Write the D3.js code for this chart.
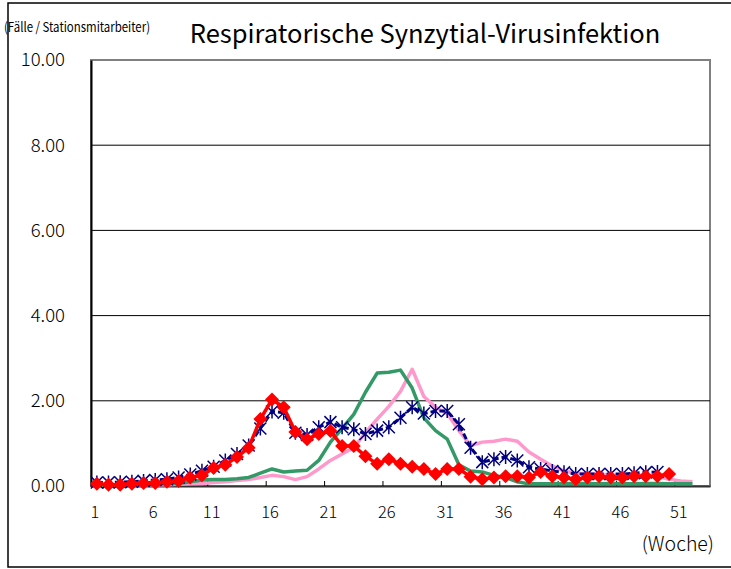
<!DOCTYPE html>
<html lang="de">
<head>
<meta charset="UTF-8">
<title>Respiratorische Synzytial-Virusinfektion</title>
<style>
    body { margin: 0; background: #fff; }
    svg text { font-family: "Noto Sans CJK JP", "Noto Sans", sans-serif; fill: #000; }
</style>
<script src="https://cdn.jsdelivr.net/npm/d3@7"></script>
</head>
<body>
<svg width="731" height="569"></svg>
<script>
    // weeks on the category axis
    const weeks = d3.range(1, 54);
    const weekLabels = [1, 6, 11, 16, 21, 26, 31, 36, 41, 46, 51];
    const yTicks = [0, 2, 4, 6, 8, 10];

    // series values, one per week starting at week 1
    const pinkSeries = [0.02, 0.02, 0.02, 0.02, 0.03, 0.03, 0.03, 0.04, 0.05, 0.06,
        0.08, 0.10, 0.13, 0.15, 0.20, 0.25, 0.22, 0.15, 0.22, 0.40,
        0.60, 0.75, 0.90, 1.25, 1.57, 1.87, 2.22, 2.74, 2.10, 1.85,
        1.70, 1.30, 0.95, 1.03, 1.05, 1.10, 1.05, 0.80, 0.63, 0.47,
        0.35, 0.30, 0.28, 0.28, 0.25, 0.25, 0.25, 0.25, 0.22, 0.16,
        0.12, 0.10];
    const greenSeries = [0.02, 0.02, 0.02, 0.03, 0.03, 0.04, 0.05, 0.06, 0.10, 0.14,
        0.15, 0.15, 0.17, 0.20, 0.30, 0.40, 0.33, 0.35, 0.37, 0.60,
        1.03, 1.35, 1.68, 2.20, 2.65, 2.67, 2.72, 2.30, 1.60, 1.30,
        1.10, 0.50, 0.35, 0.33, 0.25, 0.20, 0.10, 0.05, 0.05, 0.05,
        0.05, 0.06, 0.06, 0.05, 0.06, 0.05, 0.05, 0.06, 0.06, 0.05,
        0.05, 0.05];
    const blueSeries = [0.08, 0.08, 0.09, 0.10, 0.12, 0.14, 0.16, 0.20, 0.27, 0.36,
        0.45, 0.60, 0.75, 0.95, 1.35, 1.75, 1.72, 1.25, 1.20, 1.38,
        1.50, 1.38, 1.33, 1.22, 1.30, 1.38, 1.60, 1.85, 1.70, 1.76,
        1.76, 1.45, 0.90, 0.56, 0.63, 0.68, 0.60, 0.44, 0.40, 0.35,
        0.32, 0.28, 0.28, 0.28, 0.28, 0.28, 0.30, 0.32, 0.33];
    const redSeries = [0.05, 0.03, 0.03, 0.05, 0.07, 0.07, 0.10, 0.12, 0.20, 0.25,
        0.42, 0.50, 0.68, 0.90, 1.57, 2.03, 1.85, 1.27, 1.10, 1.22,
        1.29, 0.94, 0.94, 0.70, 0.52, 0.63, 0.52, 0.45, 0.40, 0.28,
        0.40, 0.40, 0.22, 0.16, 0.20, 0.23, 0.23, 0.20, 0.33, 0.23,
        0.20, 0.16, 0.20, 0.23, 0.20, 0.20, 0.23, 0.23, 0.23, 0.28];

    const svg = d3.select("svg");
    const plotLeft = 91, plotRight = 710, plotTop = 60, plotBottom = 486;

    const x = d3.scaleBand().domain(weeks).range([plotLeft, plotRight]).paddingInner(0).paddingOuter(0);
    const cx = w => x(w) + x.bandwidth() / 2;
    const y = d3.scaleLinear().domain([0, 10]).range([plotBottom, plotTop]);

    // outer chart border
    svg.append("rect").attr("x", 8).attr("y", 3).attr("width", 740).attr("height", 564)
        .attr("fill", "none").attr("stroke", "#000").attr("stroke-width", 1.5);

    // plot frame
    svg.append("rect").attr("x", plotLeft).attr("y", plotTop)
        .attr("width", plotRight - plotLeft).attr("height", plotBottom - plotTop)
        .attr("fill", "#fff").attr("stroke", "#808080").attr("stroke-width", 2);

    // gridlines
    svg.append("g").selectAll("line").data(yTicks.filter(d => d > 0 && d < 10)).enter().append("line")
        .attr("x1", plotLeft).attr("x2", plotRight)
        .attr("y1", d => y(d)).attr("y2", d => y(d))
        .attr("stroke", "#000").attr("stroke-width", 1);

    // y axis
    const yAxis = svg.append("g").attr("transform", `translate(${plotLeft},0)`)
        .call(d3.axisLeft(y).tickValues(yTicks).tickFormat(d3.format(".2f")).tickSize(0).tickPadding(26));
    yAxis.select(".domain").attr("stroke", "#000").attr("stroke-width", 2);
    yAxis.selectAll("text").style("font-size", "18.5px").style("font-weight", 300);

    // x axis
    const xAxis = svg.append("g").attr("transform", `translate(0,${plotBottom})`)
        .call(d3.axisBottom(x).tickValues(weekLabels).tickSize(0).tickPadding(20));
    xAxis.select(".domain").attr("stroke", "#333").attr("stroke-width", 2);
    xAxis.selectAll("text").attr("dx", -2).style("font-size", "16.5px").style("font-weight", 300);

    // inward tick marks between category groups
    svg.append("g").selectAll("line").data(weekLabels.slice(1)).enter().append("line")
        .attr("x1", d => x(d)).attr("x2", d => x(d))
        .attr("y1", plotBottom).attr("y2", plotBottom - 5)
        .attr("stroke", "#000").attr("stroke-width", 1);

    const line = d3.line().x((d, i) => cx(weeks[i])).y(d => y(d));

    svg.append("path").datum(pinkSeries).attr("d", line)
        .attr("fill", "none").attr("stroke", "#ff99cc").attr("stroke-width", 3.5).attr("stroke-linejoin", "round");
    svg.append("path").datum(greenSeries).attr("d", line)
        .attr("fill", "none").attr("stroke", "#339966").attr("stroke-width", 3.5).attr("stroke-linejoin", "round");

    svg.append("path").datum(blueSeries).attr("d", line)
        .attr("fill", "none").attr("stroke", "#000080").attr("stroke-width", 3).attr("stroke-dasharray", "6,3");
    const star = svg.append("g").selectAll("g").data(blueSeries).enter().append("g")
        .attr("transform", (d, i) => `translate(${cx(weeks[i])},${y(d)})`);
    star.append("path").attr("d", "M-6,-6L6,6M-6,6L6,-6M0,-7L0,7")
        .attr("stroke", "#000080").attr("stroke-width", 1.5).attr("fill", "none");

    svg.append("path").datum(redSeries).attr("d", line)
        .attr("fill", "none").attr("stroke", "#ff0000").attr("stroke-width", 3.5);
    svg.append("g").selectAll("path").data(redSeries).enter().append("path")
        .attr("transform", (d, i) => `translate(${cx(weeks[i])},${y(d)})`)
        .attr("d", "M0,-7L7,0L0,7L-7,0Z").attr("fill", "#ff0000");

    // texts
    svg.append("text").attr("x", 425).attr("y", 43).attr("text-anchor", "middle")
        .style("font-size", "25.5px").text("Respiratorische Synzytial-Virusinfektion");
    svg.append("text").attr("x", 4).attr("y", 32)
        .attr("textLength", 146).attr("lengthAdjust", "spacingAndGlyphs")
        .style("font-size", "13.5px").text("(Fälle / Stationsmitarbeiter)");
    svg.append("text").attr("x", 714).attr("y", 551).attr("text-anchor", "end")
        .style("font-size", "19.5px").style("font-weight", 300).text("(Woche)");
</script>
</body>
</html>
